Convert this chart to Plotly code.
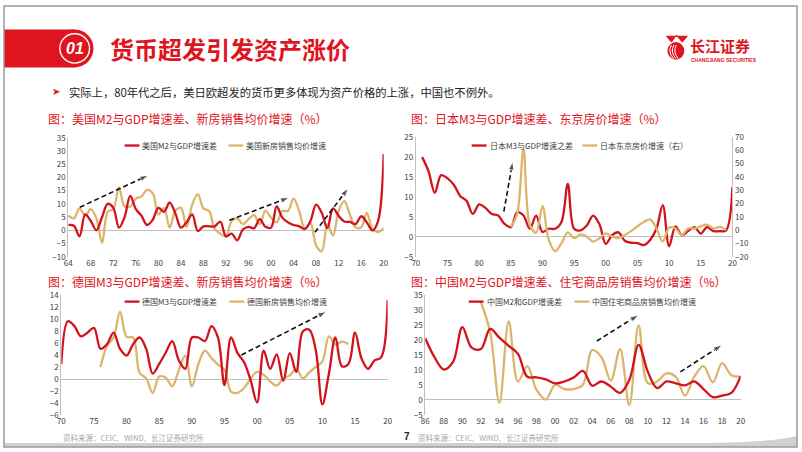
import plotly.graph_objects as go

W, H = 802, 452

# ---------------- data ----------------
us_years = list(range(1964, 2021))
us_m2_gdp = [2, 1.7, -2.3, 6, 3.5, 0, 5, 10, 8.5, 1,
             5, 13, 8, 5.5, 2, 4, 8.5, 7, 10.5, 6.5,
             1, 3, 6, -0.3, 1.5, 1.5, 1.5, 3.3, -2.3, -1.3,
             -3.8, 0.3, 1.3, 0.8, 4.2, 1.3, 1, 9, 4.8, 3,
             2, 1.5, 0.5, 3.5, 9.7, 6.6, 0.8, 8.3, 5.5, 3.3,
             3.2, 2.3, 5.3, 3, 0, 3.5, 28.8]
us_house = [5.5, 4.5, 8.3, 5.5, 8, 4.5, -4.8, 7, 8, 16.2,
            9, 9, 12, 12.8, 15.3, 14, 6, 8.5, 1, 7.3,
            8.5, 1.3, 9.7, 13.7, 8.3, 7.3, 0.5, -1.3, -2.3, 3.5,
            4.5, 2.3, 4.2, 5.7, 2.3, 7.3, 4.8, 3, 7.3, 7.3,
            12, 7.3, 0.5, 2.7, -5.7, -7.9, 2.3, -2, 7.3, 11,
            6, 1.1, 1.1, 6.6, 0.5, -0.7, 0.9]
us_ticks = list(range(1964, 2021, 4))

jp_years = list(range(1971, 2021))
jp_m3_gdp = [19.9, 16.4, 11, 15.4, 14.6, 13, 10.2, 9, 5.7, 8.1,
             7.2, 5.7, 5.3, 3.2, 2.4, 6.1, 5.3, 2, 5.3, 1.2,
             2, 2, 3.7, 13.2, 2, 1.6, 2.8, 5.3, 3.1, -1.8,
             0.4, 1.1, -1, -1.5, -1.6, -2.1, -0.8, 2, 7.9, -2.4,
             2.6, 0.4, 1.4, 2.4, 0.8, 2.4, 1.4, 1.4, 1.6, 12.4]
jp_house_years = list(range(1985, 2020))
jp_house = [2.4, 12, 60.3, 4, -2, 18, -7.4, -15.9, -9.8, -1.8,
            -6.1, -3.2, -4.9, -8.6, -6.1, -2.5, -4.9, -6.1, -3.7, -0.8,
            2.9, 6, 8, 1.2, -8.6, 1.9, 1.2, -3.7, 1.2, 1.2,
            2.9, 4.1, 1.2, 2.4, 0]
jp_ticks = list(range(1970, 2021, 5))

de_years = list(range(1970, 2021))
de_m3_gdp = [2.5, 9.6, 8.8, 7.1, 7.7, 8.5, 5, 5.8, 7.7, 5,
             3.9, 5.8, 6.9, 5, 0.9, 2.5, 4.4, 6.3, 3.1, 1.7,
             6.9, 6.9, 6.3, 8.8, 6.9, -1, 6.9, 4.3, 2.8, -0.2,
             -3.9, 4.7, 1.7, 4.1, -0.3, 4.3, 1.2, 7.9, 8.2, 4.7,
             -4.2, 0.9, 6.9, 2.1, 2.5, 7.7, 3.4, 1.7, 3.1, 3.6,
             13.1]
de_house_years = list(range(1976, 2015))
de_house = [2, 5.5, 6.9, 11.2, 7, 6.9, 1, 0.1, -2.3, 0.4,
            0.2, -1.2, 1.5, 3.9, -1.2, 2.5, 4.7, 3.5, 2.4, 1.5,
            -2.1, -2.3, -1.5, 0.1, 1.2, 0.7, -0.4, -1.1, 0.1, 0.6,
            1.7, 0.1, 1.1, 2, 2.9, 7.1, 5.7, 6.2, 5.8]
de_ticks = list(range(1970, 2021, 5))

cn_years = list(range(1986, 2021))
cn_m2_gdp = [20.5, 14.2, 10.1, 12.6, 24.2, 17.4, 16.9, 23.6, 20.7, 18,
             15.3, 7.7, 7.5, 6.8, 5.5, 6.1, 7.4, 9.6, 4.7, 6.1,
             4.4, 2.3, 6.6, 18.3, 9.3, 3.9, 6.1, 5.5, 4.8, 6.1,
             3.6, 0.9, 1.4, 2.3, 7.9]
cn_house_years = list(range(1992, 2021))
cn_house = [32.6, 22.5, -1, 26.1, 6.1, 11.2, 3.3, 0.1, 5, 3.6,
            3.6, 5, 16.6, 14.2, 6.4, 16.9, -1.8, 24.8, 5.5, 6.1,
            8.8, 7.7, 1.4, 7.7, 11.2, 5.8, 12.2, 8.2, 7.7]
cn_ticks = list(range(1986, 2021, 2))

# trend arrows (start, end) in data units per panel
us_arrows = [((1966.05, 8.7), (1978.2, 20.8)),
             ((1992.6, 3.8), (2003.2, 12.4)),
             ((2007.8, -0.7), (2013.7, 15.9))]
jp_arrows = [((1983.9, 6.3), (1985.3, 18.8))]
de_arrows = [((1997.6, 4.0), (2010.6, 11.2))]
cn_arrows = [((2004.5, 19.6), (2009.0, 28.3)),
             ((2013.5, 9.3), (2018.0, 18.3))]

RED = "#D2121C"
GOLD = "#DDB46C"
HEAD_RED = "#E0141E"
AX = "#BFBFBF"
TXT = "#404040"
FONT = "Noto Sans CJK SC"


def px(x):
    return x / W


def py(y):
    return 1 - y / H


def two_digit(years):
    return ["%02d" % (y % 100) for y in years]


fig = go.Figure()


def add_series(x, y, color, xa, ya):
    fig.add_trace(go.Scatter(x=x, y=y, mode="lines", xaxis=xa, yaxis=ya,
                             line=dict(color=color, width=2.3, shape="spline", smoothing=1.0),
                             showlegend=False, hoverinfo="skip"))


def add_arrows(arrows, xa, ya):
    for (s, e) in arrows:
        fig.add_trace(go.Scatter(x=[s[0], e[0]], y=[s[1], e[1]], mode="lines+markers",
                                 xaxis=xa, yaxis=ya,
                                 line=dict(color="#111111", width=1.6, dash="5px,3px"),
                                 marker=dict(symbol="arrow", size=[0, 9], color="#111111",
                                             angleref="previous"),
                                 showlegend=False, hoverinfo="skip"))


add_series(us_years, us_house, GOLD, "x", "y")
add_series(us_years, us_m2_gdp, RED, "x", "y")
add_arrows(us_arrows, "x", "y")

add_series(jp_house_years, jp_house, GOLD, "x2", "y3")
add_series(jp_years, jp_m3_gdp, RED, "x2", "y2")
add_arrows(jp_arrows, "x2", "y2")

add_series(de_house_years, de_house, GOLD, "x4", "y4")
add_series(de_years, de_m3_gdp, RED, "x4", "y4")
add_arrows(de_arrows, "x4", "y4")

add_series(cn_house_years, cn_house, GOLD, "x5", "y5")
add_series(cn_years, cn_m2_gdp, RED, "x5", "y5")
add_arrows(cn_arrows, "x5", "y5")

tickfont = dict(family=FONT, size=8, color=TXT)


def xax(dom, rng, ticks, anchor):
    return dict(domain=[px(dom[0]), px(dom[1])], range=rng, tickvals=ticks,
                ticktext=two_digit(ticks), showgrid=False, zeroline=False,
                showline=False, ticks="", tickfont=tickfont, anchor=anchor,
                fixedrange=True)


def yax(dom, rng, dtick, anchor, **kw):
    d = dict(domain=[py(dom[1]), py(dom[0])], range=rng, dtick=dtick, showgrid=False,
             zeroline=True, zerolinecolor=AX, zerolinewidth=1, showline=True,
             linecolor=AX, linewidth=1, ticks="", tickfont=tickfont, anchor=anchor,
             fixedrange=True)
    d.update(kw)
    return d


layout = dict(
    width=W, height=H, margin=dict(l=0, r=0, t=0, b=0),
    paper_bgcolor="white", plot_bgcolor="rgba(0,0,0,0)",
    font=dict(family=FONT, color=TXT),
    xaxis=xax((65, 384), [1964, 2020], us_ticks, "y"),
    yaxis=yax((135, 257), [-10, 35], 5, "x"),
    xaxis2=xax((416.5, 736.7), [1970, 2020], jp_ticks, "y2"),
    yaxis2=yax((134, 257), [-5, 25], 5, "x2"),
    yaxis3=yax((134, 257), [-20, 70], 10, "x2", overlaying="y2", side="right",
               zeroline=False),
    xaxis4=xax((58, 388), [1970, 2020], de_ticks, "y4"),
    yaxis4=yax((296, 419.3), [-6, 14], 2, "x4"),
    xaxis5=xax((426, 745), [1986, 2020], cn_ticks, "y5"),
    yaxis5=yax((296, 419), [-5, 35], 5, "x5"),
)
fig.update_layout(**layout)

shapes = []
ann = []

# header bar + badge
shapes.append(dict(type="rect", xref="paper", yref="paper", x0=px(0), x1=px(71),
                   y0=py(63), y1=py(24), fillcolor=HEAD_RED, line=dict(width=0), layer="above"))
shapes.append(dict(type="circle", xref="paper", yref="paper", x0=px(51.5), x1=px(90.5),
                   y0=py(63), y1=py(24), fillcolor=HEAD_RED, line=dict(width=0), layer="above"))
shapes.append(dict(type="circle", xref="paper", yref="paper", x0=px(56.5), x1=px(86.5),
                   y0=py(58.5), y1=py(28.5), fillcolor="rgba(0,0,0,0)",
                   line=dict(color="white", width=1.4), layer="above"))
ann.append(dict(text="<b><i>01</i></b>", x=px(71.5), y=py(43.5), xref="paper", yref="paper",
                showarrow=False, font=dict(family="Liberation Sans", size=16, color="white"),
                xanchor="center", yanchor="middle"))
ann.append(dict(text="<b>货币超发引发资产涨价</b>", x=px(105), y=py(43.5), xref="paper",
                yref="paper", showarrow=False, font=dict(family=FONT, size=24, color=HEAD_RED),
                xanchor="left", yanchor="middle"))

# logo
shapes.append(dict(type="circle", xref="paper", yref="paper", x0=px(671), x1=px(688),
                   y0=py(55), y1=py(37), fillcolor=HEAD_RED, line=dict(width=0)))
for k in range(3):
    shapes.append(dict(type="path", xref="paper", yref="paper",
                       path="M %f %f Q %f %f %f %f" % (px(675 + 2.5 * k), py(40),
                                                       px(671 + 2.5 * k), py(47),
                                                       px(677 + 2.5 * k), py(54)),
                       line=dict(color="white", width=1)))
shapes.append(dict(type="path", xref="paper", yref="paper",
                   path="M %f %f L %f %f L %f %f L %f %f L %f %f Z" % (
                       px(670), py(31), px(675), py(37), px(680), py(30), px(686), py(37),
                       px(691), py(31)),
                   fillcolor=HEAD_RED, line=dict(color=HEAD_RED, width=1)))
ann.append(dict(text="<b>长江证券</b>", x=px(692), y=py(40.5), xref="paper", yref="paper",
                showarrow=False, font=dict(family=FONT, size=15, color=HEAD_RED),
                xanchor="left", yanchor="middle"))
ann.append(dict(text="<b>CHANGJIANG SECURITIES</b>", x=px(693), y=py(55), xref="paper",
                yref="paper", showarrow=False,
                font=dict(family="Liberation Sans", size=5, color=HEAD_RED),
                xanchor="left", yanchor="middle"))

# bullet line
ann.append(dict(text="➤", x=px(47), y=py(88), xref="paper", yref="paper", showarrow=False,
                font=dict(family="DejaVu Sans", size=10, color=HEAD_RED),
                xanchor="left", yanchor="middle"))
ann.append(dict(text="实际上，80年代之后，美日欧超发的货币更多体现为资产价格的上涨，中国也不例外。",
                x=px(64), y=py(88), xref="paper", yref="paper", showarrow=False,
                font=dict(family=FONT, size=11.3, color="#222222"),
                xanchor="left", yanchor="middle"))

# panel titles
titles = [(42, 115, "图：美国M2与GDP增速差、新房销售均价增速（%）"),
          (410, 115, "图：日本M3与GDP增速差、东京房价增速（%）"),
          (42, 282, "图：德国M3与GDP增速差、新房销售均价增速（%）"),
          (410, 282, "图：中国M2与GDP增速差、住宅商品房销售均价增速（%）")]
for x, y, t in titles:
    ann.append(dict(text=t, x=px(x), y=py(y), xref="paper", yref="paper", showarrow=False,
                    font=dict(family=FONT, size=12, color=HEAD_RED),
                    xanchor="left", yanchor="middle"))

# legends
legends = [(122, 143, RED, "美国M2与GDP增速差"), (227, 143, GOLD, "美国新房销售均价增速"),
           (473, 143, RED, "日本M3与GDP增速之差"), (585, 143, GOLD, "日本东京房价增速（右）"),
           (122, 303, RED, "德国M3与GDP增速差"), (228, 303, GOLD, "德国新房销售均价增速"),
           (470, 303, RED, "中国M2和GDP增速差"), (577, 303, GOLD, "中国住宅商品房销售均价增速")]
for x, y, c, t in legends:
    shapes.append(dict(type="line", xref="paper", yref="paper", x0=px(x), x1=px(x + 15),
                       y0=py(y), y1=py(y), line=dict(color=c, width=2.3)))
    ann.append(dict(text=t, x=px(x + 16), y=py(y), xref="paper", yref="paper",
                    showarrow=False, font=dict(family=FONT, size=8, color=TXT),
                    xanchor="left", yanchor="middle"))

# sources / page number
for x in (58, 417):
    ann.append(dict(text="资料来源：CEIC、WIND、长江证券研究所", x=px(x), y=py(442),
                    xref="paper", yref="paper", showarrow=False,
                    font=dict(family=FONT, size=7.5, color="#A6A6A6"),
                    xanchor="left", yanchor="middle"))
ann.append(dict(text="<b>7</b>", x=px(403), y=py(441), xref="paper", yref="paper",
                showarrow=False, font=dict(family="Liberation Sans", size=10, color="#222222"),
                xanchor="left", yanchor="middle"))

# slide frame / bottom shadow
shapes.append(dict(type="path", xref="paper", yref="paper",
                   path="M %f %f L %f %f Q %f %f %f %f L %f %f L %f %f Z" % (
                       px(0), py(448), px(690), py(448), px(770), py(448), px(802), py(441),
                       px(802), py(452), px(0), py(452)),
                   fillcolor="#D0D0D0", line=dict(width=0)))
shapes.append(dict(type="rect", xref="paper", yref="paper", x0=0, x1=1, y0=0, y1=1,
                   line=dict(color="#9A9A9A", width=1.5), fillcolor="rgba(0,0,0,0)"))

fig.update_layout(shapes=shapes, annotations=ann)
fig.write_html("out.html",
               config=dict(displayModeBar=False, staticPlot=True),
               post_script="document.body.style.margin='0';document.body.style.padding='0';"
                           "document.documentElement.style.overflow='hidden';"
                           "document.body.style.overflow='hidden';")
